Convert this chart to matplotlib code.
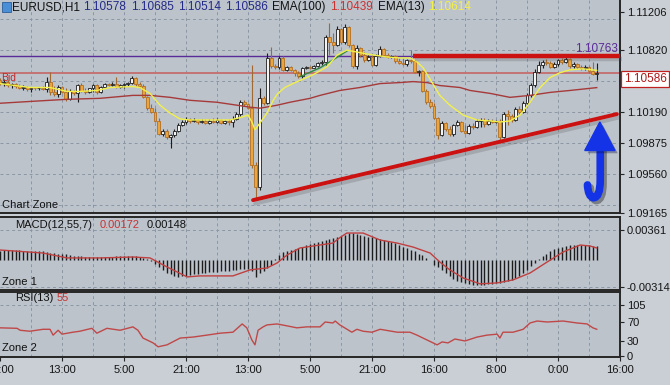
import numpy as np
import matplotlib
matplotlib.use("Agg")
import matplotlib.pyplot as plt
import matplotlib.patheffects as pe
import matplotlib.transforms as mtransforms
from matplotlib.path import Path
from matplotlib.patches import PathPatch, Polygon, Rectangle

plt.rcParams['font.family'] = ['Liberation Sans', 'DejaVu Sans']

# ---- EURUSD H1 candles (each bar opens at the previous close) ----
first_open = 1.1052
closes = [1.1049, 1.1050, 1.1047, 1.1048, 1.1046, 1.1043, 1.1045, 1.1042, 1.1044, 1.1043,
          1.1044, 1.1042, 1.1050, 1.1039, 1.1037, 1.1045, 1.1039, 1.1032, 1.1040, 1.1038,
          1.1047, 1.1040, 1.1039, 1.1043, 1.1047, 1.1039, 1.1045, 1.1048, 1.1047, 1.1048,
          1.1045, 1.1047, 1.1048, 1.1049, 1.1054, 1.1048, 1.1046, 1.1034, 1.1023, 1.1019,
          1.1010, 1.0997, 1.1000, 1.0994, 1.0996, 1.1000, 1.1006, 1.1009, 1.1012, 1.1010,
          1.1011, 1.1009, 1.1010, 1.1008, 1.1010, 1.1009, 1.1011, 1.1008, 1.1010, 1.1009,
          1.1012, 1.1017, 1.1029, 1.1027, 1.1023, 1.0965, 1.0943, 1.1033, 1.1028, 1.1074,
          1.1066, 1.1065, 1.1074, 1.1062, 1.1065, 1.1062, 1.1059, 1.1056, 1.1064, 1.1065,
          1.1064, 1.1066, 1.1069, 1.1070, 1.1095, 1.1090, 1.1087, 1.1103, 1.1090, 1.1105,
          1.1087, 1.1066, 1.1084, 1.1077, 1.1072, 1.1075, 1.1067, 1.1076, 1.1083, 1.1077,
          1.1075, 1.1076, 1.1071, 1.1069, 1.1068, 1.1072, 1.1071, 1.1060, 1.1061, 1.1040,
          1.1029, 1.1025, 1.1013, 1.0996, 1.1008, 1.1002, 1.0997, 1.1006, 1.1009, 1.1000,
          1.0998, 1.1005, 1.1004, 1.1010, 1.1011, 1.1007, 1.1010, 1.1009, 1.1010, 1.0994,
          1.1017, 1.1015, 1.1011, 1.1022, 1.1019, 1.1028, 1.1036, 1.1047, 1.1060, 1.1067,
          1.1070, 1.1069, 1.1065, 1.1068, 1.1072, 1.1070, 1.1073, 1.1066, 1.1068, 1.1065,
          1.1064, 1.1065, 1.1061, 1.10578, 1.10586]
highs = [1.1054, 1.1053, 1.1052, 1.1049, 1.1049, 1.1048, 1.1047, 1.1046, 1.1045, 1.1045,
         1.1045, 1.1046, 1.1055, 1.1060, 1.1046, 1.1047, 1.1046, 1.1043, 1.1042, 1.1041,
         1.1048, 1.1049, 1.1043, 1.1044, 1.1048, 1.1048, 1.1046, 1.1049, 1.1049, 1.1050,
         1.1055, 1.1048, 1.1049, 1.1050, 1.1056, 1.1055, 1.1050, 1.1048, 1.1035, 1.1027,
         1.1023, 1.1013, 1.1002, 1.1002, 1.0997, 1.1002, 1.1008, 1.1011, 1.1014, 1.1013,
         1.1013, 1.1012, 1.1012, 1.1012, 1.1012, 1.1013, 1.1013, 1.1012, 1.1011, 1.1012,
         1.1015, 1.1019, 1.1031, 1.1031, 1.1028, 1.1067, 1.0968, 1.1044, 1.1035, 1.1079,
         1.1085, 1.1068, 1.1076, 1.1076, 1.1066, 1.1066, 1.1063, 1.1061, 1.1065, 1.1066,
         1.1066, 1.1067, 1.1070, 1.1072, 1.1097, 1.1110, 1.1099, 1.1106, 1.1104, 1.1109,
         1.1106, 1.1088, 1.1087, 1.1085, 1.1080, 1.1077, 1.1077, 1.1078, 1.1086, 1.1084,
         1.1079, 1.1077, 1.1077, 1.1074, 1.1074, 1.1073, 1.1082, 1.1072, 1.1062, 1.1062,
         1.1042, 1.1032, 1.1028, 1.1014, 1.1010, 1.1009, 1.1005, 1.1007, 1.1011, 1.1010,
         1.1006, 1.1007, 1.1008, 1.1012, 1.1013, 1.1013, 1.1012, 1.1012, 1.1011, 1.1012,
         1.1019, 1.1021, 1.1017, 1.1024, 1.1025, 1.1030, 1.1038, 1.1049, 1.1063, 1.1071,
         1.1072, 1.1073, 1.1071, 1.1070, 1.1073, 1.1074, 1.1075, 1.1074, 1.1070, 1.1069,
         1.1067, 1.1067, 1.1066, 1.1070, 1.10685]
lows = [1.1047, 1.1046, 1.1045, 1.1044, 1.1044, 1.1042, 1.1041, 1.1040, 1.1039, 1.1041,
        1.1041, 1.1041, 1.1039, 1.1036, 1.1035, 1.1034, 1.1038, 1.1030, 1.1031, 1.1036,
        1.1029, 1.1039, 1.1037, 1.1038, 1.1039, 1.1037, 1.1038, 1.1043, 1.1046, 1.1046,
        1.1044, 1.1044, 1.1044, 1.1046, 1.1048, 1.1046, 1.1044, 1.1033, 1.1021, 1.1018,
        1.1009, 1.0996, 1.0995, 1.0992, 1.0983, 1.0994, 1.0999, 1.1005, 1.1007, 1.1008,
        1.1009, 1.1007, 1.1008, 1.1007, 1.1007, 1.1008, 1.1008, 1.1007, 1.1007, 1.1006,
        1.1004, 1.1011, 1.1015, 1.1025, 1.1022, 1.0962, 1.0932, 1.0940, 1.1026, 1.1027,
        1.1064, 1.1063, 1.1063, 1.1061, 1.1061, 1.1061, 1.1056, 1.1054, 1.1054, 1.1063,
        1.1063, 1.1064, 1.1065, 1.1067, 1.1067, 1.1077, 1.1079, 1.1086, 1.1088, 1.1088,
        1.1085, 1.1064, 1.1063, 1.1075, 1.1070, 1.1071, 1.1066, 1.1066, 1.1075, 1.1076,
        1.1074, 1.1074, 1.1069, 1.1068, 1.1067, 1.1066, 1.1069, 1.1059, 1.1056, 1.1039,
        1.1027, 1.1023, 1.1012, 1.0992, 1.0995, 1.1000, 1.0995, 1.0995, 1.1005, 1.0999,
        1.0997, 1.0997, 1.1002, 1.1003, 1.1004, 1.1004, 1.1006, 1.1008, 1.1008, 1.0988,
        1.0993, 1.1006, 1.1009, 1.1010, 1.1017, 1.1018, 1.1026, 1.1034, 1.1045, 1.1059,
        1.1064, 1.1067, 1.1064, 1.1064, 1.1066, 1.1068, 1.1069, 1.1064, 1.1064, 1.1063,
        1.1062, 1.1062, 1.1059, 1.1057, 1.10514]

# moving averages (bar position, price)
ema13_bar = [0, 7.7, 12.9, 17.3, 20.6, 25, 28.4, 34.3, 36.1, 38.7, 41.3, 43.9, 46.5, 49,
             59.4, 62.5, 64, 65, 65.8, 67.1, 68.9, 70.5, 71.7, 73.5, 75.6, 77.9, 80.8,
             84.4, 87, 89.5, 92.1, 94.7, 99.9, 103.2, 105.8, 107.6, 109.2, 111.5, 113.5,
             116.1, 119.5, 123.1, 126.5, 129, 131.6, 134.2, 136.8, 139.4, 141.9, 144.5,
             147.1, 150.5, 154]
ema13 = [1.1048, 1.1044, 1.1044, 1.1040, 1.1040, 1.1041, 1.1044, 1.1045, 1.1044, 1.1038,
         1.1026, 1.1018, 1.1012, 1.1011, 1.1011, 1.1014, 1.1016, 1.1009, 1.1001, 1.1008,
         1.1018, 1.1031, 1.1038, 1.1044, 1.1048, 1.1052, 1.1057, 1.1065, 1.1077, 1.1082,
         1.1080, 1.1078, 1.1075, 1.1074, 1.1074, 1.1070, 1.1064, 1.1049, 1.1036, 1.1026,
         1.1016, 1.1011, 1.1010, 1.1009, 1.1010, 1.1016, 1.1029, 1.1044, 1.1054, 1.1059,
         1.1062, 1.1063, 1.10614]
ema100_bar = [0, 8.5, 17.3, 25.8, 34.3, 38.7, 43.9, 49, 56, 61.2, 64.5, 67.1, 71.5, 74.8,
              80, 82.6, 87.7, 92.9, 98.1, 103.2, 106.6, 110.2, 113.5, 118.7, 121.3, 126.5,
              131.6, 136.8, 141.9, 147.1, 154]
ema100 = [1.1028, 1.1030, 1.1032, 1.1033, 1.1036, 1.1036, 1.1034, 1.1031, 1.1029, 1.1026,
          1.1024, 1.1023, 1.1026, 1.1029, 1.1033, 1.1036, 1.1041, 1.1044, 1.1048, 1.1049,
          1.1050, 1.1049, 1.1046, 1.1044, 1.1041, 1.1038, 1.1034, 1.1036, 1.1039, 1.1041,
          1.10439]
green_bar = [77.4, 82.6, 85.9, 89.5]
green = [1.1055, 1.1064, 1.1072, 1.1081]

# levels and the drawn support line
bid = 1.10586
level_purple = 1.10763
level_red = 1.10765
trend_bar = [65.3, 159.2]
trend_price = [1.09296, 1.10170]

# MACD(12,55,7): histogram per bar and signal samples, in 1e-5
macd_hist = [118, 120, 121, 121, 120, 119, 118, 117, 116, 114, 112, 108,
             100, 92, 85, 80, 76, 72,
             65, 58, 52, 48, 45, 43, 42, 42, 42, 43, 44, 45, 47,
             50, 52, 53, 52, 48, 40,
             28, 14, -5,
             -40, -80, -115, -145, -165,
             -185, -195, -190, -180,
             -172, -165, -158, -150,
             -145, -140, -138, -135, -130, -125, -120, -115,
             -110, -105, -100, -100,
             -130, -195, -150,
             -120, -85, -50,
             20,
             60, 95, 115, 125, 135, 145,
             160, 180, 195, 205, 215, 225, 240, 255, 270, 280,
             290, 300, 320, 325, 315,
             300, 290, 280, 275, 270,
             255, 245, 230, 220,
             205, 185, 165, 145, 125, 110,
             80, 60, 30, 5,
             -50, -80, -110,
             -150, -190, -220, -245,
             -260, -270, -280, -285, -290, -288, -285,
             -280, -275, -270, -262, -255, -245, -235,
             -210, -180, -150, -110, -70,
             -30, 15,
             50, 80, 110, 135, 150,
             165, 175, 180, 185, 185, 185,
             180, 178, 175, 172]
signal_bar = [0, 11.1, 17.3, 25.8, 34.3, 38.7, 43.1, 48.3, 51.6, 60.1, 64.5, 68.9, 71.5,
              74.1, 77.4, 85.9, 87.7, 89.5, 93.7, 98.1, 102.5, 106.6, 111, 113.5, 116.1,
              119.5, 123.9, 128.3, 132.4, 136.8, 141.2, 145.3, 149.7, 152.3, 154]
signal = [124, 88, 30, 30, 41, 30, -77, -195, -183, -183, -112, -89, -30,
          65, 148, 206, 270, 325, 325, 242, 206, 159, 88, -18, -112,
          -207, -277, -266, -230, -148, -18, 100, 183, 171, 148]

# RSI(13) samples
rsi_bar = [0, 4.4, 5.2, 7.7, 11.1, 12.9, 13.7, 15, 16, 18.8, 20.6, 23.7, 25, 27.6, 31,
           34.3, 35.6, 36.9, 39.5, 40.8, 43.1, 46.5, 49.8, 53.4, 56.8, 60.1, 62.5, 63.7,
           65, 65.8, 66.6, 67.9, 68.9, 71.5, 74.1, 76.6, 79.2, 82.6, 83.9, 85.9, 86.5,
           87.7, 90.8, 92.1, 93.7, 96, 98.1, 102.5, 105.8, 107.6, 110.2, 112.8, 114.1,
           115.6, 117.4, 120, 123.1, 125.7, 128.3, 129, 129.8, 132.4, 135, 136.8, 138.6,
           141.2, 145.3, 148.9, 151.5, 153, 154]
rsi = [58, 57, 53, 51, 55, 55, 43, 53, 45, 49, 51, 57, 47, 57, 53,
       60, 53, 37, 27, 19, 23, 37, 39, 43, 47, 49, 66, 58,
       33, 23, 53, 60, 64, 66, 62, 58, 60, 60, 70, 68, 72,
       64, 49, 55, 51, 49, 55, 49, 49, 43, 33, 23, 29,
       27, 35, 31, 39, 43, 45, 37, 49, 49, 55, 68, 72,
       70, 72, 68, 66, 58, 55]

x_labels = ["21:00", "13:00", "5:00", "21:00", "13:00", "5:00", "21:00",
            "16:00", "8:00", "0:00", "16:00"]
price_ticks = [1.11206, 1.10820, 1.10190, 1.09875, 1.09560, 1.09165]
price_grid = [1.11135, 1.10820, 1.10505, 1.10190, 1.09875, 1.09560, 1.09245]
macd_ticks = [0.00361, -0.00314]
rsi_ticks = [105, 70, 30, 0]

# ---------------- layout ----------------
W, H = 670, 385
fig = plt.figure(figsize=(W / 100, H / 100), dpi=100, facecolor='#cacfd5')
bg = '#bcc3cb'
gridc = '#8b96a5'
dark = '#262626'

def box(top, bottom):
    return [0, 1 - bottom / H, 620 / W, (bottom - top) / H]

ax = fig.add_axes(box(0, 213))
axm = fig.add_axes(box(217, 290))
axr = fig.add_axes(box(292, 357))

for a in (ax, axm, axr):
    a.set_facecolor(bg)
    a.set_xlim(0, 160)
    a.spines['left'].set_visible(False)
    for s in ('top', 'bottom', 'right'):
        a.spines[s].set_color(dark)
        a.spines[s].set_linewidth(1.4)
    a.yaxis.tick_right()
    a.tick_params(axis='y', labelsize=8, length=3, width=0.8, color=dark,
                  labelcolor='#151515', pad=2)
    for k in range(1, 20):
        a.axvline(8 * k, color=gridc, lw=0.7, ls=(0, (3, 3)), zorder=1)
ax.spines['top'].set_visible(False)
for a in (ax, axm):
    a.set_xticks([])
axr.set_xticks(np.arange(0, 161, 16))
axr.set_xticklabels(x_labels)
axr.tick_params(axis='x', labelsize=8, length=3, color=dark, labelcolor='#151515', pad=3)

# ---------------- main chart ----------------
ax.set_ylim(1.09165, 1.11329)
ax.set_yticks(price_ticks)
ax.set_yticklabels([f"{v:.5f}" for v in price_ticks])
for p in price_grid:
    ax.axhline(p, color=gridc, lw=0.7, ls=(0, (3, 3)), zorder=1)

x = np.arange(len(closes))
c = np.array(closes)
o = np.array([first_open] + closes[:-1])
hi = np.array(highs)
lo = np.array(lows)
up = c >= o
body_lo = np.minimum(o, c)
body_h = np.maximum(np.abs(c - o), 0.00002)

ax.axhline(level_purple, color='#5b2c98', lw=1.0, zorder=2)
ax.axhline(bid, color='#c47272', lw=1.4, zorder=2)

ax.vlines(x[up], lo[up], hi[up], color='#1c1c1c', lw=0.8, zorder=3)
ax.vlines(x[~up], lo[~up], hi[~up], color='#a06a30', lw=0.8, zorder=3)
ax.bar(x[up], body_h[up], bottom=body_lo[up], width=0.72, color='#f3f3f3',
       edgecolor='#1c1c1c', lw=0.6, zorder=4)
ax.bar(x[~up], body_h[~up], bottom=body_lo[~up], width=0.72, color='#eaa63c',
       edgecolor='#b47022', lw=0.6, zorder=4)

ax.plot(ema100_bar, ema100, color='#a63a3a', lw=1.0, zorder=5)
ax.plot(green_bar, green, color='#2f8a3e', lw=1.0, zorder=5)
ax.plot(ema13_bar, ema13, color='#f2f04a', lw=1.0, zorder=5)

shadow = [pe.SimpleLineShadow(offset=(1.5, -2.5), shadow_color='#4a4a4a', alpha=0.22), pe.Normal()]
ax.plot([106.5, 160], [level_red, level_red], color='#cc1111', lw=3.2,
        solid_capstyle='butt', zorder=6, path_effects=shadow, clip_on=False)
ax.plot(trend_bar, trend_price, color='#cc1111', lw=2.8, solid_capstyle='round',
        zorder=6, path_effects=shadow)

# blue J arrow
blue = '#1433e6'
stem = Path([(154.9, 1.0982), (154.9, 1.0950), (154.9, 1.0932), (153.1, 1.0932),
             (151.8, 1.0933), (151.6, 1.0945)],
            [Path.MOVETO, Path.LINETO, Path.CURVE3, Path.CURVE3, Path.CURVE3, Path.CURVE3])
ax.add_patch(PathPatch(stem, fill=False, edgecolor=blue, lw=5.5, capstyle='round', zorder=7,
                       path_effects=[pe.SimpleLineShadow(offset=(2, -2), alpha=0.35), pe.Normal()]))
ax.add_patch(Polygon([(150.9, 1.0980), (158.7, 1.0980), (154.8, 1.1009)], closed=True,
                     facecolor=blue, edgecolor=blue, zorder=7,
                     path_effects=[pe.SimplePatchShadow(offset=(2, -2), alpha=0.35), pe.Normal()]))

tr = mtransforms.blended_transform_factory(ax.transAxes, ax.transData)
ax.text(0.997, level_purple + 0.00012, f"{level_purple:.5f}", transform=tr, ha='right',
        va='bottom', fontsize=8.5, color='#5b2c98', zorder=8)
ax.text(1.006, bid, f"{bid:.5f}", transform=tr, ha='left', va='top', fontsize=8.5,
        color='#b01818', clip_on=False, zorder=9,
        bbox=dict(boxstyle='square,pad=0.2', facecolor='white', edgecolor='#c02020', lw=0.9))
ax.text(0.3, bid - 0.00003, "Bid", ha='left', va='top', fontsize=7.5, color='#c02828', zorder=8)
ax.text(0.003, 0.015, "Chart Zone", transform=ax.transAxes, ha='left', va='bottom',
        fontsize=8, color='#111111')

# ---------------- MACD ----------------
axm.set_ylim(-0.00350, 0.00515)
axm.set_yticks(macd_ticks)
axm.set_yticklabels([f"{v:.5f}" for v in macd_ticks])
for v in macd_ticks:
    axm.axhline(v, color=gridc, lw=0.7, ls=(0, (3, 3)), zorder=1)
hist = np.array(macd_hist) * 1e-5
axm.vlines(x, 0, hist, color='#1c1c1c', lw=1.0, zorder=3)
axm.plot(signal_bar, np.array(signal) * 1e-5, color='#c04040', lw=1.0, zorder=4)
axm.text(0.003, 0.04, "Zone 1", transform=axm.transAxes, ha='left', va='bottom',
         fontsize=8, color='#111111')

# ---------------- RSI ----------------
axr.set_ylim(-2, 131.7)
axr.set_yticks(rsi_ticks)
axr.axhline(105, color=gridc, lw=0.7, ls=(0, (3, 3)), zorder=1)
axr.plot(rsi_bar, rsi, color='#c04848', lw=1.0, zorder=4)
axr.text(0.003, 0.06, "Zone 2", transform=axr.transAxes, ha='left', va='bottom',
         fontsize=8, color='#111111')

# ---------------- header texts ----------------
def ftext(px, py, s, color, size=8.5):
    fig.text(px / W, 1 - py / H, s, ha='left', va='center', fontsize=size, color=color)

fig.patches.append(Rectangle((2 / W, 1 - 12 / H), 9 / W, 10 / H, transform=fig.transFigure,
                             facecolor='#4a8fd6', edgecolor='#2a5f9a', lw=0.6))
ftext(12, 7, "EURUSD,H1", '#111111')
ohlc = [o[-1], hi[-1], lo[-1], c[-1]]
for px, v in zip([83, 131, 178, 225], ohlc):
    ftext(px, 7, f"{v:.5f}", '#232a86')
ftext(272, 7, "EMA(100)", '#111111')
ftext(330, 7, f"{ema100[-1]:.5f}", '#c83232')
ftext(378, 7, "EMA(13)", '#111111')
ftext(428, 7, f"{ema13[-1]:.5f}", '#f4f04a')

ftext(15, 225, "MACD(12,55,7)", '#111111', 8)
ftext(100, 225, f"{macd_hist[-1] * 1e-5:.5f}", '#c83232', 8)
ftext(147, 225, f"{signal[-1] * 1e-5:.5f}", '#111111', 8)
ftext(15, 298, "RSI(13)", '#111111', 8)
ftext(57, 298, f"{rsi[-1]:.0f}", '#c83232', 8)

fig.savefig("out.png", dpi=100, facecolor=fig.get_facecolor())
